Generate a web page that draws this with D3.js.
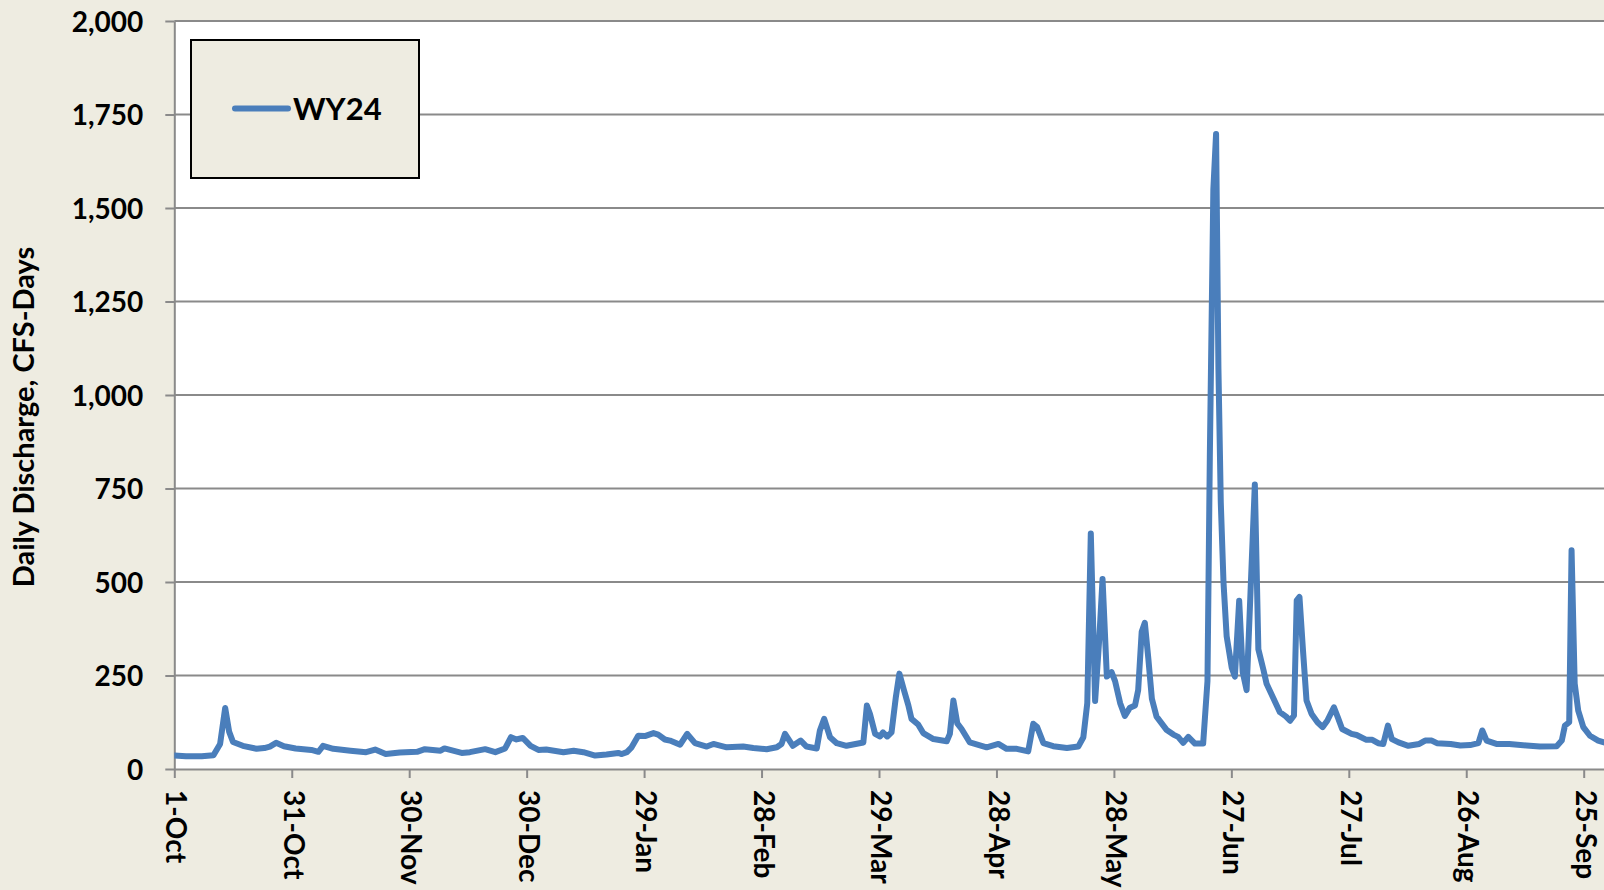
<!DOCTYPE html>
<html>
<head>
<meta charset="utf-8">
<script src="https://cdn.jsdelivr.net/npm/d3@7"></script>
<style>
  html, body { margin: 0; padding: 0; background: #EEECE1; }
  svg { display: block; }
  text { font-family: Lato, "Open Sans", sans-serif; font-weight: bold; fill: #000; }
</style>
</head>
<body>
<svg id="chart" width="1604" height="890"></svg>
<script>
// ---- data ----
const seriesName = "WY24";
const yTitle = "Daily Discharge, CFS-Days";
// days since 1-Oct-2023
const dayOffset = [0,3,7,10,11.7,13,14,15,17.5,21,23,24.4,26,28,31,35,36.8,38,40.6,45,49,51.3,54,57.6,62,64,68,69,73.4,75.5,79.4,82,84.5,86,87.4,89,91,93,95,97,99.4,102,104.5,107.5,110.4,113.4,114.3,115.6,116.8,118.5,120.2,122.4,123.6,125.3,126.6,129.2,131,133,136,137.7,141.1,145.3,147.9,151.3,153.9,155.1,156,158,160,161.5,164.1,164.9,166,167.5,169.2,171.7,176,176.9,177.7,179,180.3,181,182.1,183.2,184.3,185.2,186.4,187.5,188.3,190,191.3,193.9,197.3,198.1,199,200,201.1,203.2,207.5,210.5,212.6,215.2,218.1,219.4,220.4,222,224.5,228,230.9,232.2,233.2,234.1,235.2,236.3,237.1,238.2,239.4,240.3,241.6,242.8,244.1,245.4,246.2,247.1,247.9,248.8,249.7,250.9,252.2,253.5,255.2,256.4,257.7,259,260.7,262.8,263.9,264.5,265.4,266.1,266.7,267.3,268,268.8,270.1,270.9,272,272.9,273.9,274.9,276,276.9,278.2,279,280.7,282.4,284,285,286,286.7,287.4,288.3,289.2,290.5,292,293.3,294.5,296.2,297.2,298.3,300.7,302,304.5,306,307.5,308.8,310,311,312.7,315.2,318,319.5,321.2,322.5,326,328.5,331,333.1,334.1,335.2,337.7,341,345.4,348.8,353.1,354.4,355.2,356.3,356.9,357.7,358.6,359.9,361.6,363.7,365.2];
const cfsDays = [36,34,34,37,67,163,100,72,62,54,56,60,70,61,55,51,46,62,54,49,45,52,40,44,46,53,49,55,43,45,53,45,55,85,79,83,62,51,52,49,45,49,45,36,39,43,40,45,58,89,88,96,92,79,76,65,94,69,60,67,58,60,56,53,58,67,94,62,76,60,55,103,134,85,69,62,71,170,147,94,87,98,87,98,192,255,210,170,134,119,96,80,74,94,183,122,107,71,58,67,54,54,47,121,112,69,61,56,60,85,176,630,182,355,508,247,259,235,176,142,164,170,211,367,391,295,188,140,122,104,92,86,70,86,68,68,235,832,1549,1698,1071,713,498,355,271,247,450,259,211,474,761,320,265,228,190,152,140,129,143,451,460,317,183,147,125,112,129,165,138,107,94,91,78,78,69,67,116,80,71,62,67,76,76,69,67,63,64,69,103,76,67,67,63,60,61,76,116,125,585,228,156,112,89,76,71];
const tickLabels = ["1-Oct","31-Oct","30-Nov","30-Dec","29-Jan","28-Feb","29-Mar","28-Apr","28-May","27-Jun","27-Jul","26-Aug","25-Sep"];
const tickYears  = [2023,2023,2023,2023,2024,2024,2024,2024,2024,2024,2024,2024,2024];
const yTicks = [0,250,500,750,1000,1250,1500,1750,2000];

// ---- layout ----
const W = 1604, H = 890;
const mLeft = 174.3, mTop = 21, mBottom = 769, mRight = W;
const startDate = new Date(2023, 9, 1);
const endDate = new Date(2024, 9, 1);
const parseTick = d3.timeParse("%d-%b-%Y");

const svg = d3.select("#chart");
const x = d3.scaleTime().domain([startDate, endDate]).range([mLeft, mLeft + 366 * 3.915]);
const y = d3.scaleLinear().domain([0, 2000]).range([mBottom, mTop]);

const data = dayOffset.map((d, i) => ({ date: new Date(startDate.getTime() + d * 86400000), v: cfsDays[i] }));
const tickDates = tickLabels.map((t, i) => parseTick(t + "-" + tickYears[i]));

// plot area
svg.append("rect").attr("x", mLeft).attr("y", mTop).attr("width", mRight - mLeft).attr("height", mBottom - mTop).attr("fill", "#fff");

// gridlines
svg.append("g").selectAll("line").data(yTicks.filter(t => t > 0)).join("line")
  .attr("x1", mLeft).attr("x2", mRight).attr("y1", d => y(d)).attr("y2", d => y(d))
  .attr("stroke", "#8a8a8a").attr("stroke-width", 2);

// y axis
const yAxis = svg.append("g").attr("transform", `translate(${mLeft},0)`)
  .call(d3.axisLeft(y).tickValues(yTicks).tickFormat(d3.format(",")).tickSize(9).tickSizeOuter(0).tickPadding(22));
yAxis.select(".domain").attr("stroke", "#8a8a8a").attr("stroke-width", 2);
yAxis.selectAll(".tick line").attr("stroke", "#8a8a8a").attr("stroke-width", 2);
yAxis.selectAll(".tick text").style("font-size", "28px").attr("dy", "0.36em");

// x axis
const xAxis = svg.append("g").attr("transform", `translate(0,${mBottom})`)
  .call(d3.axisBottom(x).tickValues(tickDates).tickFormat((d, i) => tickLabels[i]).tickSize(9).tickSizeOuter(0));
xAxis.select(".domain").attr("stroke", "#8a8a8a").attr("stroke-width", 2);
xAxis.selectAll(".tick line").attr("stroke", "#8a8a8a").attr("stroke-width", 2);
xAxis.selectAll(".tick text").style("font-size", "28px")
  .attr("text-anchor", "start").attr("transform", "translate(0,21) rotate(90)")
  .attr("x", 0).attr("y", 0).attr("dy", "0.3em");

// clip
svg.append("clipPath").attr("id", "clip").append("rect")
  .attr("x", mLeft).attr("y", 0).attr("width", mRight - mLeft).attr("height", mBottom + 3);

// series line
svg.append("path").datum(data)
  .attr("clip-path", "url(#clip)")
  .attr("fill", "none").attr("stroke", "#4A7EBB").attr("stroke-width", 6)
  .attr("stroke-linejoin", "round").attr("stroke-linecap", "round")
  .attr("d", d3.line().x(d => x(d.date)).y(d => y(d.v)));

// y title
svg.append("text").attr("transform", "translate(34,417) rotate(-90)")
  .attr("text-anchor", "middle").style("font-size", "29px").text(yTitle);

// legend
const lg = svg.append("g");
lg.append("rect").attr("x", 191).attr("y", 40).attr("width", 228).attr("height", 138)
  .attr("fill", "#EEECE1").attr("stroke", "#000").attr("stroke-width", 2);
lg.append("line").attr("x1", 235).attr("x2", 288).attr("y1", 108.5).attr("y2", 108.5)
  .attr("stroke", "#4A7EBB").attr("stroke-width", 6).attr("stroke-linecap", "round");
lg.append("text").attr("x", 293).attr("y", 119.5).style("font-size", "31px").text(seriesName);
</script>
</body>
</html>
